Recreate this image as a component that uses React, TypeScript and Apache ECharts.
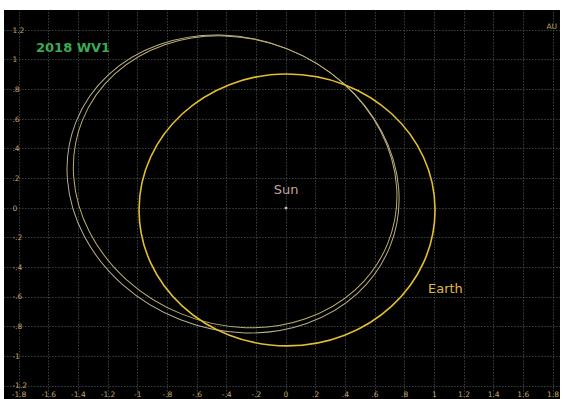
import React, { useEffect, useRef } from 'react';
import * as echarts from 'echarts';

// Orbit ellipses in AU, as seen in the view plane:
// [centre x, centre y, semi-axis along x, semi-axis along y, tilt in degrees (counter-clockwise)]
const earthOrbit = [0.007, -0.013, 0.998, 0.917, 0];
const wv1OrbitOuter = [-0.357, 0.162, 1.139, 0.982, -21.4];
const wv1OrbitInner = [-0.343, 0.177, 1.11, 0.962, -21.9];
const sunPosition = [0, 0];

// Axis ranges (AU); tick labels are shown only inside the labelled span
const xRange = [-2, 2];
const yRange = [-1.4, 1.4];
const tickStep = 0.2;
const xLabelSpan = 1.8;
const yLabelSpan = 1.2;

const FONT = 'DejaVu Sans';
const TICK_COLOR = '#c6a466';

const fmtTick = (span: number) => (v: number) => {
  if (Math.abs(v) > span + 1e-6) return '';
  const r = Math.round(v * 10) / 10;
  if (r === 0) return '0';
  return String(r).replace(/^(-?)0\./, '$1.');
};

const orbitRenderer = (lineWidth: number) => (params: any, api: any) => {
  const centre = api.coord([api.value(0), api.value(1)]);
  const size = api.size([api.value(2), api.value(3)]);
  return {
    type: 'ellipse',
    x: centre[0],
    y: centre[1],
    rotation: (api.value(4) * Math.PI) / 180,
    shape: { cx: 0, cy: 0, rx: size[0], ry: size[1] },
    style: { fill: 'none', stroke: api.visual('color'), lineWidth },
    silent: true,
  };
};

export default function App() {
  const ref = useRef<HTMLDivElement>(null);

  useEffect(() => {
    if (!ref.current) return;
    const chart = echarts.init(ref.current, undefined, { renderer: 'svg' });
    const splitLine = {
      show: true,
      lineStyle: { color: '#526560', width: 1, type: [1, 2] as any },
    };
    chart.setOption({
      animation: false,
      backgroundColor: '#000',
      grid: {
        left: -14.6,
        right: -22.6,
        top: -9.6,
        bottom: -16.6,
        containLabel: false,
        outerBoundsMode: 'none',
      },
      xAxis: {
        type: 'value',
        min: xRange[0],
        max: xRange[1],
        interval: tickStep,
        axisLine: { show: false },
        axisTick: { show: false },
        splitLine,
        axisLabel: {
          inside: true,
          margin: 17,
          color: TICK_COLOR,
          fontSize: 7.5,
          fontFamily: FONT,
          formatter: fmtTick(xLabelSpan),
        },
      },
      yAxis: {
        type: 'value',
        min: yRange[0],
        max: yRange[1],
        interval: tickStep,
        axisLine: { show: false },
        axisTick: { show: false },
        splitLine,
        axisLabel: {
          inside: true,
          margin: 23,
          color: TICK_COLOR,
          fontSize: 7.5,
          fontFamily: FONT,
          formatter: fmtTick(yLabelSpan),
        },
      },
      series: [
        {
          type: 'custom',
          name: '2018 WV1',
          renderItem: orbitRenderer(1),
          itemStyle: { color: '#b9ad8f' },
          encode: { x: 0, y: 1 },
          data: [wv1OrbitOuter],
          z: 2,
        },
        {
          type: 'custom',
          name: '2018 WV1 track',
          renderItem: orbitRenderer(1),
          itemStyle: { color: '#bdb06a' },
          encode: { x: 0, y: 1 },
          data: [wv1OrbitInner],
          z: 2,
        },
        {
          type: 'custom',
          name: 'Earth',
          renderItem: orbitRenderer(1.6),
          itemStyle: { color: '#e3be32' },
          encode: { x: 0, y: 1 },
          data: [earthOrbit],
          z: 3,
        },
        {
          type: 'scatter',
          name: 'Sun',
          symbolSize: 3,
          itemStyle: { color: '#f2d8d6' },
          data: [sunPosition],
          label: {
            show: true,
            formatter: 'Sun',
            position: 'top',
            distance: 11,
            color: '#f3d3cf',
            fontSize: 13,
            fontFamily: FONT,
          },
          z: 4,
        },
      ],
      graphic: [
        {
          type: 'text',
          left: 32,
          top: 31,
          style: {
            text: '2018 WV1',
            fill: '#3daa55',
            font: `bold 13px "${FONT}"`,
          },
        },
        {
          type: 'text',
          left: 424,
          top: 272,
          style: {
            text: 'Earth',
            fill: '#e0b848',
            font: `13px "${FONT}"`,
          },
        },
        {
          type: 'text',
          right: 3,
          top: 12,
          style: {
            text: 'AU',
            fill: TICK_COLOR,
            font: `7.5px "${FONT}"`,
          },
        },
      ],
    });
    return () => chart.dispose();
  }, []);

  return (
    <div
      style={{
        position: 'fixed',
        left: 0,
        top: 0,
        width: 563,
        height: 399,
        background: '#fff',
      }}
    >
      <div
        style={{
          position: 'absolute',
          left: 4,
          top: 10,
          width: 556,
          height: 389,
          background: '#000',
          overflow: 'hidden',
        }}
      >
        <div ref={ref} style={{ width: 556, height: 389 }} />
      </div>
    </div>
  );
}
